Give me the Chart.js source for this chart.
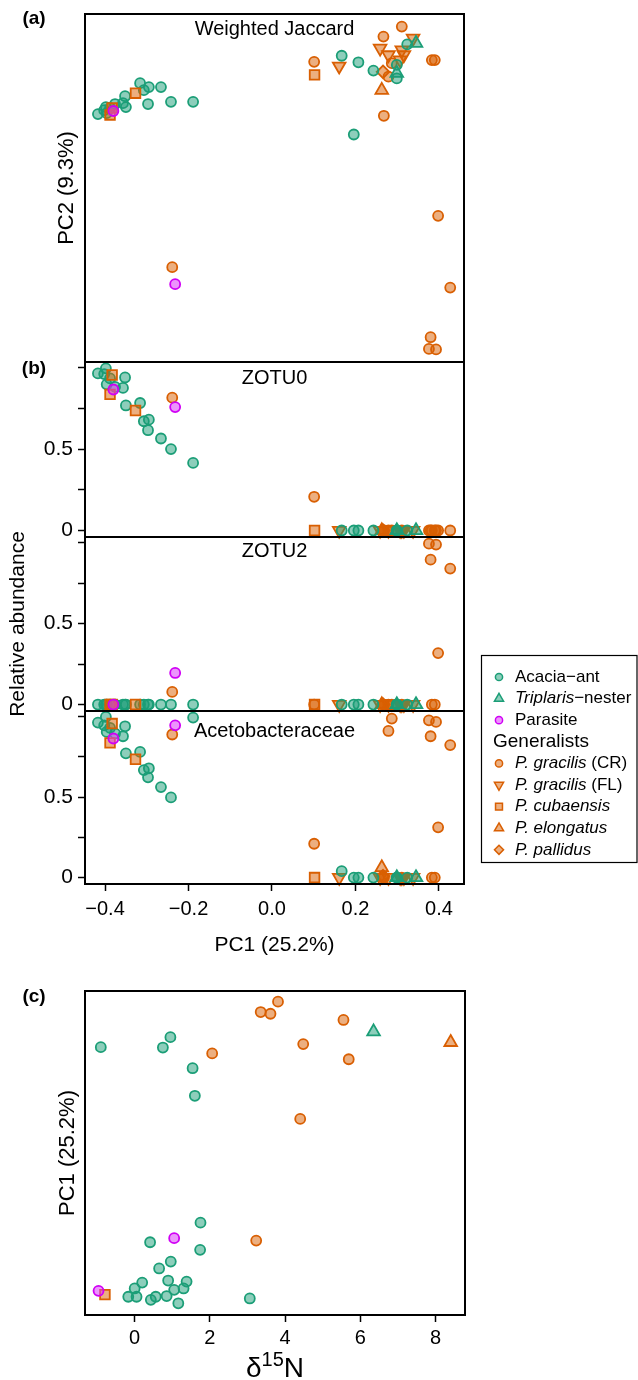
<!DOCTYPE html>
<html lang="en">
<head>
<meta charset="utf-8">
<title>Microbiome PCoA, ZOTU abundance and d15N</title>
<script src="https://cdn.jsdelivr.net/npm/chart.js@4.4.1/dist/chart.umd.min.js"></script>
<style>
    body { margin: 0; background: #fff; }
    .figure { position: relative; width: 638px; height: 1380px; }
    .figure canvas { position: absolute; left: 0; top: 0; }
</style>
</head>
<body>
<div class="figure">
    <canvas id="pcoaChart" width="638" height="1380"></canvas>
    <canvas id="zotu0Chart" width="638" height="1380"></canvas>
    <canvas id="zotu2Chart" width="638" height="1380"></canvas>
    <canvas id="acetoChart" width="638" height="1380"></canvas>
    <canvas id="isotopeChart" width="638" height="1380"></canvas>
</div>
<script>
// ---- Data ----
// Acacia-ants
const acaciaPC1 = [-0.417, -0.402, -0.398, -0.396, -0.388, -0.376, -0.357, -0.352, -0.350, -0.316, -0.307, -0.297, -0.295, -0.266, -0.242, -0.189, 0.167, 0.196, 0.207, 0.243, 0.299, 0.299, 0.324];
const acaciaPC2 = [0.170, 0.179, 0.186, 0.172, 0.184, 0.193, 0.195, 0.211, 0.186, 0.241, 0.225, 0.193, 0.232, 0.232, 0.198, 0.198, 0.304, 0.123, 0.289, 0.270, 0.283, 0.252, 0.330];
const acaciaZOTU0 = [0.965, 0.961, 0.996, 0.898, 0.934, 0.882, 0.876, 0.940, 0.768, 0.783, 0.671, 0.616, 0.681, 0.565, 0.500, 0.415, 0, 0, 0, 0, 0, 0, 0];
const acaciaZOTU2 = [0, 0, 0, 0, 0, 0, 0, 0, 0, 0, 0, 0, 0, 0, 0, 0, 0, 0, 0, 0, 0, 0, 0];
const acaciaAceto = [0.963, 0.946, 0.998, 0.905, 0.930, 0.895, 0.878, 0.940, 0.772, 0.781, 0.668, 0.623, 0.679, 0.562, 0.498, 0.994, 0.040, 0, 0, 0, 0, 0, 0];

// Triplaris-nesters
const triplarisPC1 = [0.345, 0.299];
const triplarisPC2 = [0.333, 0.264];
const triplarisZOTU0 = [0, 0];
const triplarisZOTU2 = [0, 0];
const triplarisAceto = [0, 0];

// Parasites
const parasitePC1 = [-0.380, -0.232];
const parasitePC2 = [0.177, -0.221];
const parasiteZOTU0 = [0.866, 0.758];
const parasiteZOTU2 = [0, 0.195];
const parasiteAceto = [0.864, 0.946];

// Generalists: P. gracilis (CR)
const gracilisCRPC1 = [0.311, 0.267, 0.287, 0.279, 0.383, 0.390, 0.101, 0.268, 0.398, 0.427, 0.380, 0.376, 0.393, -0.239];
const gracilisCRPC2 = [0.371, 0.348, 0.287, 0.256, 0.294, 0.294, 0.290, 0.166, -0.064, -0.229, -0.343, -0.370, -0.371, -0.182];
const gracilisCRZOTU0 = [0, 0, 0, 0, 0, 0, 0.207, 0, 0, 0, 0, 0, 0, 0.816];
const gracilisCRZOTU2 = [0, 0, 0, 0, 0, 0, 0, 0, 0.318, 0.840, 0.895, 0.994, 0.988, 0.078];
const gracilisCRAceto = [0, 0, 0.988, 0.911, 0, 0, 0.210, 0, 0.312, 0.823, 0.878, 0.977, 0.967, 0.889];

// P. gracilis (FL)
const gracilisFLPC1 = [0.338, 0.259, 0.279, 0.311, 0.316, 0.307, 0.161];
const gracilisFLPC2 = [0.344, 0.321, 0.306, 0.317, 0.306, 0.294, 0.280];
const gracilisFLZOTU0 = [0, 0, 0, 0, 0, 0, 0];
const gracilisFLZOTU2 = [0, 0, 0, 0, 0, 0, 0];
const gracilisFLAceto = [0, 0, 0, 0, 0, 0, 0];

// P. cubaensis
const cubaensisPC1 = [-0.388, -0.383, -0.327, 0.102];
const cubaensisPC2 = [0.168, 0.184, 0.218, 0.260];
const cubaensisZOTU0 = [0.836, 0.955, 0.737, 0];
const cubaensisZOTU2 = [0, 0, 0, 0];
const cubaensisAceto = [0.837, 0.957, 0.735, 0];

// P. elongatus
const elongatusPC1 = [0.263];
const elongatusPC2 = [0.225];
const elongatusZOTU0 = [0];
const elongatusZOTU2 = [0];
const elongatusAceto = [0.062];

// P. pallidus
const pallidusPC1 = [0.266];
const pallidusPC2 = [0.267];
const pallidusZOTU0 = [0];
const pallidusZOTU2 = [0];
const pallidusAceto = [0.010];

// Panel (c): d15N against PC1
const acaciaD15N = [-0.90, 0.75, 0.95, 1.54, 1.60, 1.75, 1.74, 0.41, 0.96, 0.65, 0.20, 0.00, -0.17, 0.05, 0.43, 0.56, 0.89, 0.85, 1.05, 1.16, 1.38, 1.30, 3.06];
const acaciaIsoPC1 = [0.307, 0.306, 0.336, 0.246, 0.166, -0.202, -0.281, -0.259, -0.315, -0.335, -0.376, -0.393, -0.417, -0.417, -0.426, -0.417, -0.370, -0.415, -0.397, -0.436, -0.373, -0.393, -0.422];
const triplarisD15N = [6.35];
const triplarisIsoPC1 = [0.352];
const parasiteD15N = [-0.96, 1.05];
const parasiteIsoPC1 = [-0.400, -0.247];
const gracilisCRD15N = [3.81, 3.35, 3.61, 5.55, 4.48, 2.06, 5.69, 4.40, 3.23];
const gracilisCRIsoPC1 = [0.439, 0.409, 0.404, 0.386, 0.316, 0.289, 0.272, 0.099, -0.254];
const cubaensisD15N = [-0.79];
const cubaensisIsoPC1 = [-0.411];
const elongatusD15N = [8.40];
const elongatusIsoPC1 = [0.321];

// Ticks and labels
const pc1Ticks = [-0.4, -0.2, 0, 0.2, 0.4];
const pc1TickLabels = ['\u22120.4', '\u22120.2', '0.0', '0.2', '0.4'];
const abundTicks = [0, 0.25, 0.5, 0.75, 1];
const abundTickLabels = ['0', '', '0.5', '', ''];
const d15NTicks = [0, 2, 4, 6, 8];
const d15NTickLabels = ['0', '2', '4', '6', '8'];

// Legend text (italic part, plain part)
const legendItalic = ['', 'Triplaris', '', '', 'P. gracilis', 'P. gracilis', 'P. cubaensis', 'P. elongatus', 'P. pallidus'];
const legendPlain = ['Acacia\u2212ant', '\u2212nester', 'Parasite', 'Generalists', ' (CR)', ' (FL)', '', '', ''];
const legendKeys = ['acacia', 'triplaris', 'parasite', null, 'gracilisCR', 'gracilisFL', 'cubaensis', 'elongatus', 'pallidus'];

document.addEventListener('DOMContentLoaded', function () {
    const FONT = "'Liberation Sans', Arial, sans-serif";
    Chart.defaults.font.family = FONT;
    Chart.defaults.font.size = 20;
    Chart.defaults.color = '#000';

    const TEAL = '#1b9e77', TEAL_FILL = 'rgba(27, 158, 119, 0.5)';
    const ORANGE = '#d95f02', ORANGE_FILL = 'rgba(217, 95, 2, 0.5)';
    const MAGENTA = '#d000f5', MAGENTA_FILL = 'rgba(220, 60, 250, 0.55)';

    const styles = {
        acacia: { shape: 'circle', rotation: 0, radius: 5, line: TEAL, fill: TEAL_FILL },
        triplaris: { shape: 'triangle', rotation: 0, radius: 7.3, line: TEAL, fill: TEAL_FILL },
        parasite: { shape: 'circle', rotation: 0, radius: 5, line: MAGENTA, fill: MAGENTA_FILL },
        gracilisCR: { shape: 'circle', rotation: 0, radius: 5, line: ORANGE, fill: ORANGE_FILL },
        gracilisFL: { shape: 'triangle', rotation: 180, radius: 7.3, line: ORANGE, fill: ORANGE_FILL },
        cubaensis: { shape: 'rect', rotation: 0, radius: 6.8, line: ORANGE, fill: ORANGE_FILL },
        elongatus: { shape: 'triangle', rotation: 0, radius: 7.3, line: ORANGE, fill: ORANGE_FILL },
        pallidus: { shape: 'rectRot', rotation: 0, radius: 6.3, line: ORANGE, fill: ORANGE_FILL }
    };

    // first in list is drawn on top
    const groups = [
        { style: styles.parasite, pc1: parasitePC1, pc2: parasitePC2, z0: parasiteZOTU0, z2: parasiteZOTU2, ace: parasiteAceto },
        { style: styles.cubaensis, pc1: cubaensisPC1, pc2: cubaensisPC2, z0: cubaensisZOTU0, z2: cubaensisZOTU2, ace: cubaensisAceto },
        { style: styles.triplaris, pc1: triplarisPC1, pc2: triplarisPC2, z0: triplarisZOTU0, z2: triplarisZOTU2, ace: triplarisAceto },
        { style: styles.acacia, pc1: acaciaPC1, pc2: acaciaPC2, z0: acaciaZOTU0, z2: acaciaZOTU2, ace: acaciaAceto },
        { style: styles.elongatus, pc1: elongatusPC1, pc2: elongatusPC2, z0: elongatusZOTU0, z2: elongatusZOTU2, ace: elongatusAceto },
        { style: styles.pallidus, pc1: pallidusPC1, pc2: pallidusPC2, z0: pallidusZOTU0, z2: pallidusZOTU2, ace: pallidusAceto },
        { style: styles.gracilisFL, pc1: gracilisFLPC1, pc2: gracilisFLPC2, z0: gracilisFLZOTU0, z2: gracilisFLZOTU2, ace: gracilisFLAceto },
        { style: styles.gracilisCR, pc1: gracilisCRPC1, pc2: gracilisCRPC2, z0: gracilisCRZOTU0, z2: gracilisCRZOTU2, ace: gracilisCRAceto }
    ];

    const isoGroups = [
        { style: styles.parasite, x: parasiteD15N, y: parasiteIsoPC1 },
        { style: styles.cubaensis, x: cubaensisD15N, y: cubaensisIsoPC1 },
        { style: styles.triplaris, x: triplarisD15N, y: triplarisIsoPC1 },
        { style: styles.acacia, x: acaciaD15N, y: acaciaIsoPC1 },
        { style: styles.elongatus, x: elongatusD15N, y: elongatusIsoPC1 },
        { style: styles.gracilisCR, x: gracilisCRD15N, y: gracilisCRIsoPC1 }
    ];

    function scatterSet(style, xs, ys) {
        return {
            data: xs.map((x, i) => ({ x: x, y: ys[i] })),
            pointStyle: style.shape,
            pointRotation: style.rotation,
            pointRadius: style.radius,
            pointBackgroundColor: style.fill,
            pointBorderColor: style.line,
            pointBorderWidth: 1.8,
            clip: false
        };
    }

    function drawMarker(ctx, style, x, y, r) {
        ctx.fillStyle = style.fill;
        ctx.strokeStyle = style.line;
        ctx.lineWidth = 1.5;
        if (Chart.helpers && Chart.helpers.drawPoint) {
            Chart.helpers.drawPoint(ctx, { pointStyle: style.shape, rotation: style.rotation, radius: r, borderWidth: 1.5 }, x, y);
        } else {
            ctx.beginPath();
            ctx.arc(x, y, r, 0, Math.PI * 2);
            ctx.fill();
            ctx.stroke();
        }
    }

    function drawLegend(ctx) {
        ctx.save();
        ctx.lineWidth = 1.2;
        ctx.strokeStyle = '#000';
        ctx.strokeRect(481.5, 655.5, 155.5, 207);
        ctx.textBaseline = 'middle';
        ctx.textAlign = 'left';
        ctx.fillStyle = '#000';
        legendKeys.forEach((key, i) => {
            const y = 677 + i * 21.6;
            if (!key) {
                ctx.font = '19px ' + FONT;
                ctx.fillText(legendPlain[i], 493, y);
                return;
            }
            const st = styles[key];
            drawMarker(ctx, st, 499, y, st.radius * 0.72);
            ctx.fillStyle = '#000';
            let x = 515;
            if (legendItalic[i]) {
                ctx.font = 'italic 17px ' + FONT;
                ctx.fillText(legendItalic[i], x, y);
                x += ctx.measureText(legendItalic[i]).width;
            }
            ctx.font = '17px ' + FONT;
            ctx.fillText(legendPlain[i], x, y);
        });
        ctx.restore();
    }

    function drawDeltaLabel(ctx, area) {
        ctx.save();
        ctx.fillStyle = '#000';
        ctx.textBaseline = 'alphabetic';
        ctx.textAlign = 'left';
        const big = '28px ' + FONT, small = '20px ' + FONT;
        ctx.font = big;
        const w1 = ctx.measureText('\u03b4').width, w3 = ctx.measureText('N').width;
        ctx.font = small;
        const w2 = ctx.measureText('15').width;
        const x = (area.left + area.right) / 2 - (w1 + w2 + w3) / 2;
        const base = 1377;
        ctx.font = big;
        ctx.fillText('\u03b4', x, base);
        ctx.font = small;
        ctx.fillText('15', x + w1, base - 11);
        ctx.font = big;
        ctx.fillText('N', x + w1 + w2, base);
        ctx.restore();
    }

    // Frame, panel titles, tags, legend
    const decorPlugin = {
        id: 'decor',
        afterDraw(chart, args, opts) {
            const ctx = chart.ctx;
            const a = chart.chartArea;
            ctx.save();
            ctx.lineWidth = 2;
            ctx.strokeStyle = '#000';
            ctx.strokeRect(a.left, a.top, a.right - a.left, a.bottom - a.top);
            ctx.fillStyle = '#000';
            ctx.textBaseline = 'middle';
            if (opts.title) {
                ctx.font = '20px ' + FONT;
                ctx.textAlign = 'center';
                ctx.fillText(opts.title, (a.left + a.right) / 2, opts.titleY);
            }
            if (opts.tag) {
                ctx.font = 'bold 19px ' + FONT;
                ctx.textAlign = 'center';
                ctx.fillText(opts.tag, 34, opts.tagY);
            }
            ctx.restore();
            if (opts.legend) drawLegend(ctx);
            if (opts.deltaLabel) drawDeltaLabel(ctx, a);
        }
    };

    const hiddenX = { type: 'linear', display: false, min: -0.448, max: 0.46 };

    function abundanceAxis(titleText) {
        return {
            type: 'linear',
            min: -0.04,
            max: 1.035,
            afterFit: function (s) { s.width = 85; },
            afterBuildTicks: function (s) { s.ticks = abundTicks.map(v => ({ value: v })); },
            ticks: { padding: 5, font: { size: 21 }, callback: (v, i) => abundTickLabels[i] },
            grid: { drawOnChartArea: false, drawTicks: true, tickLength: 7, tickColor: '#000', tickWidth: 1.5 },
            border: { display: false },
            title: titleText ? { display: true, text: titleText, font: { size: 21 }, padding: { top: 6, bottom: 0 } } : { display: false }
        };
    }

    function makeChart(id, datasets, padding, scales, decor) {
        return new Chart(document.getElementById(id), {
            type: 'scatter',
            data: { datasets: datasets },
            options: {
                responsive: false,
                animation: false,
                events: [],
                layout: { padding: padding },
                scales: scales,
                plugins: { legend: { display: false }, tooltip: { enabled: false }, decor: decor }
            },
            plugins: [decorPlugin]
        });
    }

    // Panel (a): PCoA, weighted Jaccard
    makeChart('pcoaChart',
        groups.map(g => scatterSet(g.style, g.pc1, g.pc2)),
        { top: 14, right: 174, bottom: 1018, left: 0 },
        {
            x: hiddenX,
            y: {
                type: 'linear', min: -0.4, max: 0.4,
                afterFit: function (s) { s.width = 85; },
                ticks: { display: false },
                grid: { display: false },
                border: { display: false },
                title: { display: true, text: 'PC2 (9.3%)', font: { size: 22 }, padding: { top: 54, bottom: 0 } }
            }
        },
        { title: 'Weighted Jaccard', titleY: 29, tag: '(a)', tagY: 19 });

    // Panel (b): ZOTU0
    makeChart('zotu0Chart',
        groups.map(g => scatterSet(g.style, g.pc1, g.z0)),
        { top: 362, right: 174, bottom: 843, left: 0 },
        { x: hiddenX, y: abundanceAxis(null) },
        { title: 'ZOTU0', titleY: 378, tag: '(b)', tagY: 369 });

    // Panel (b): ZOTU2
    makeChart('zotu2Chart',
        groups.map(g => scatterSet(g.style, g.pc1, g.z2)),
        { top: 537, right: 174, bottom: 669, left: 0 },
        { x: hiddenX, y: abundanceAxis('Relative abundance') },
        { title: 'ZOTU2', titleY: 551 });

    // Panel (b): Acetobacteraceae, with shared PC1 axis and legend
    makeChart('acetoChart',
        groups.map(g => scatterSet(g.style, g.pc1, g.ace)),
        { top: 711, right: 174, bottom: 420, left: 0 },
        {
            x: {
                type: 'linear', min: -0.448, max: 0.46,
                afterFit: function (s) { s.height = 76; },
                afterBuildTicks: function (s) { s.ticks = pc1Ticks.map(v => ({ value: v })); },
                ticks: { padding: 6, callback: (v, i) => pc1TickLabels[i] },
                grid: { drawOnChartArea: false, drawTicks: true, tickLength: 7, tickColor: '#000', tickWidth: 1.5 },
                border: { display: false },
                title: { display: true, text: 'PC1 (25.2%)', font: { size: 21 }, padding: { top: 0, bottom: 2 } }
            },
            y: abundanceAxis(null)
        },
        { title: 'Acetobacteraceae', titleY: 731, legend: true });

    // Panel (c): d15N vs PC1
    makeChart('isotopeChart',
        isoGroups.map(g => scatterSet(g.style, g.x, g.y)),
        { top: 991, right: 173, bottom: 25, left: 0 },
        {
            x: {
                type: 'linear', min: -1.32, max: 8.78,
                afterFit: function (s) { s.height = 40; },
                afterBuildTicks: function (s) { s.ticks = d15NTicks.map(v => ({ value: v })); },
                ticks: { padding: 4, callback: (v, i) => d15NTickLabels[i] },
                grid: { drawOnChartArea: false, drawTicks: true, tickLength: 7, tickColor: '#000', tickWidth: 1.5 },
                border: { display: false }
            },
            y: {
                type: 'linear', min: -0.47, max: 0.47,
                afterFit: function (s) { s.width = 85; },
                ticks: { display: false },
                grid: { display: false },
                border: { display: false },
                title: { display: true, text: 'PC1 (25.2%)', font: { size: 22 }, padding: { top: 55, bottom: 0 } }
            }
        },
        { tag: '(c)', tagY: 997, deltaLabel: true });
});
</script>
</body>
</html>
